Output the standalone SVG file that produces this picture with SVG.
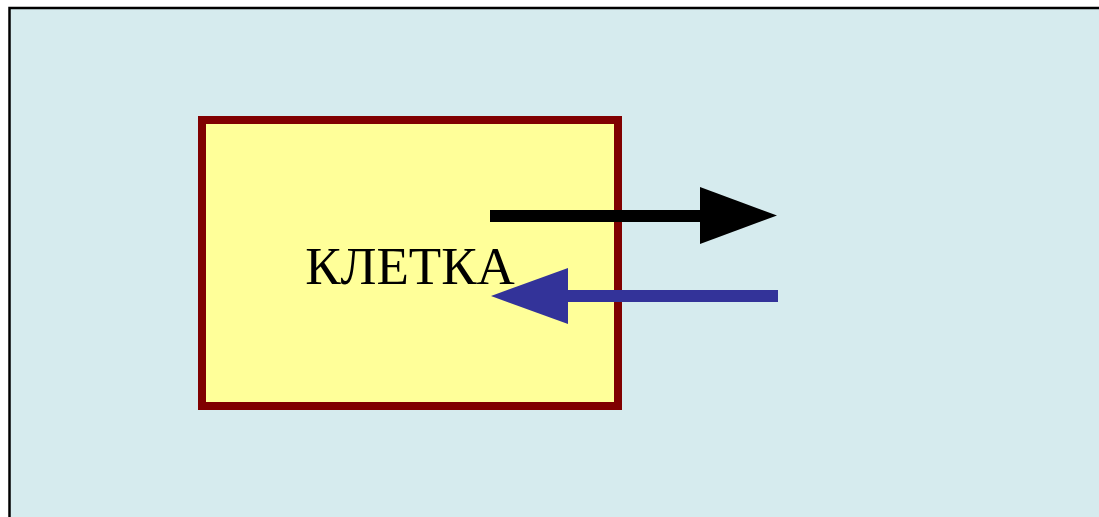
<svg xmlns="http://www.w3.org/2000/svg" width="1099" height="517" viewBox="0 0 1099 517">
  <style>
    .label { font-family: "Liberation Serif", "Times New Roman", serif; font-size: 53px; fill: #000000; }
  </style>
  <rect x="0" y="0" width="1099" height="517" fill="#ffffff"/>
  <rect id="frame" x="9.5" y="8" width="1100" height="520" fill="#d6ebee" stroke="#000000" stroke-width="2.5"/>
  <g id="node-cell">
    <rect x="202" y="120" width="416" height="286" fill="#ffff99" stroke="#800000" stroke-width="8"/>
    <text class="label" x="410" y="284" text-anchor="middle">КЛЕТКА</text>
  </g>
  <g id="connectors">
    <line x1="490" y1="216" x2="702" y2="216" stroke="#000000" stroke-width="12"/>
    <polygon points="700,187 777,215.5 700,244" fill="#000000"/>
    <line x1="566" y1="296" x2="778" y2="296" stroke="#333399" stroke-width="12"/>
    <polygon points="568,268 491,296 568,324" fill="#333399"/>
  </g>
</svg>
